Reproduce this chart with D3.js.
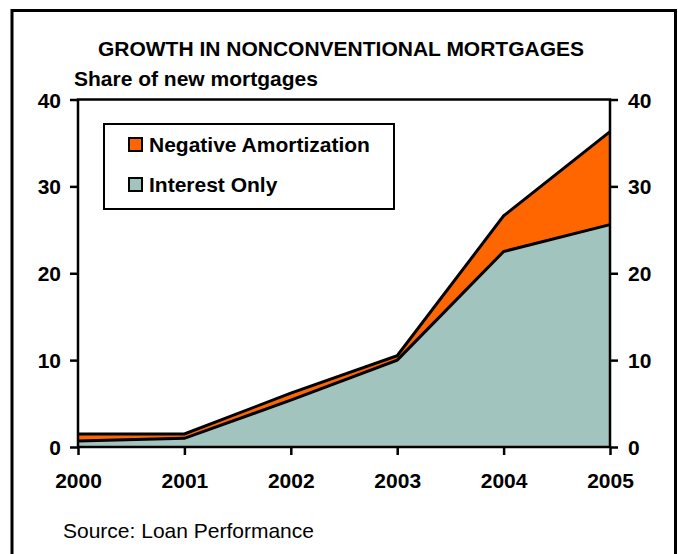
<!DOCTYPE html>
<html>
<head>
<meta charset="utf-8">
<script src="https://cdn.jsdelivr.net/npm/d3@7"></script>
<style>
  html, body { margin: 0; padding: 0; background: #fff; }
  svg { display: block; }
  text { font-family: "Liberation Sans", Arial, sans-serif; fill: #000; }
</style>
</head>
<body>
<div id="chart"></div>
<script>
// Share of new mortgages (%), by year of origination
const years = [2000, 2001, 2002, 2003, 2004, 2005];
const interestOnly = [0.7, 1.0, 5.4, 10.0, 22.5, 25.6];
const negativeAmortization = [0.8, 0.5, 0.8, 0.5, 4.1, 10.7];
const yTicks = [0, 10, 20, 30, 40];

const seriesNames = ["Negative Amortization", "Interest Only"];
const seriesColors = ["#FF6600", "#A2C4BE"];

const W = 678, H = 554;
const margin = { left: 78, right: 68, top: 99.5, bottom: 107 };

const svg = d3.select("#chart").append("svg")
  .attr("width", W).attr("height", H);

// outer frame (bottom edge runs off the page)
svg.append("rect")
  .attr("x", 12).attr("y", 10.5)
  .attr("width", 663.5).attr("height", 560)
  .attr("fill", "none").attr("stroke", "#000").attr("stroke-width", 3);

const x = d3.scalePoint().domain(years).range([margin.left, W - margin.right]);
const y = d3.scaleLinear().domain([0, 40]).range([H - margin.bottom, margin.top]);

const rows = years.map((yr, i) => ({
  year: yr,
  io: interestOnly[i],
  total: interestOnly[i] + negativeAmortization[i]
}));

// negative amortization band stacked on interest-only
svg.append("path")
  .datum(rows)
  .attr("fill", seriesColors[0])
  .attr("d", d3.area().x(d => x(d.year)).y0(d => y(d.io)).y1(d => y(d.total)));

svg.append("path")
  .datum(rows)
  .attr("fill", seriesColors[1])
  .attr("d", d3.area().x(d => x(d.year)).y0(y(0)).y1(d => y(d.io)));

const line = key => d3.line().x(d => x(d.year)).y(d => y(d[key]));
["total", "io"].forEach(k => {
  svg.append("path")
    .datum(rows)
    .attr("fill", "none").attr("stroke", "#000").attr("stroke-width", 3)
    .attr("stroke-linejoin", "miter")
    .attr("d", line(k));
});

// plot box
svg.append("rect")
  .attr("x", margin.left).attr("y", y(40))
  .attr("width", x(2005) - x(2000)).attr("height", y(0) - y(40))
  .attr("fill", "none").attr("stroke", "#000").attr("stroke-width", 2.5);

// axes
const styleAxis = g => {
  g.select(".domain").remove();
  g.selectAll(".tick line").attr("stroke", "#000").attr("stroke-width", 2.5);
  g.selectAll(".tick text")
    .style("font-size", "21px").style("font-weight", "bold")
    .attr("fill", "#000");
};

svg.append("g")
  .attr("transform", `translate(${margin.left},0)`)
  .call(d3.axisLeft(y).tickValues(yTicks).tickSize(8).tickPadding(9))
  .call(styleAxis)
  .selectAll(".tick text").attr("dy", "0.36em");

svg.append("g")
  .attr("transform", `translate(${W - margin.right},0)`)
  .call(d3.axisRight(y).tickValues(yTicks).tickSize(8).tickPadding(10))
  .call(styleAxis)
  .selectAll(".tick text").attr("dy", "0.36em");

svg.append("g")
  .attr("transform", `translate(0,${y(0)})`)
  .call(d3.axisBottom(x).tickSize(8).tickPadding(18))
  .call(styleAxis);

// titles
svg.append("text")
  .attr("x", 341).attr("y", 56)
  .attr("text-anchor", "middle")
  .style("font-size", "21px").style("font-weight", "bold")
  .text("GROWTH IN NONCONVENTIONAL MORTGAGES");

svg.append("text")
  .attr("x", 74).attr("y", 86)
  .style("font-size", "21px").style("font-weight", "bold")
  .text("Share of new mortgages");

svg.append("text")
  .attr("x", 63).attr("y", 538)
  .style("font-size", "21px")
  .text("Source: Loan Performance");

// legend
const legend = svg.append("g");
legend.append("rect")
  .attr("x", 104).attr("y", 124)
  .attr("width", 290).attr("height", 85)
  .attr("fill", "#fff").attr("stroke", "#000").attr("stroke-width", 2);

seriesNames.forEach((name, i) => {
  const gy = 138 + i * 40;
  legend.append("rect")
    .attr("x", 129).attr("y", gy)
    .attr("width", 13).attr("height", 13)
    .attr("fill", seriesColors[i]).attr("stroke", "#000").attr("stroke-width", 2);
  legend.append("text")
    .attr("x", 149).attr("y", gy + 14)
    .style("font-size", "21px").style("font-weight", "bold")
    .text(name);
});
</script>
</body>
</html>
